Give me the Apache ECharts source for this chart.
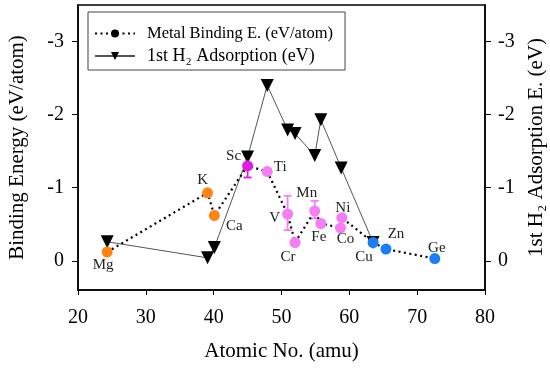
<!DOCTYPE html>
<html><head><meta charset="utf-8">
<script src="https://cdn.jsdelivr.net/npm/echarts@6/dist/echarts.min.js"></script>
<style>html,body{margin:0;padding:0;background:#fff}#c{width:550px;height:370px}</style>
</head><body><div id="c"></div>
<script>
// ---- data ----
const elements   = ['Mg','K','Ca','Sc','Ti','V','Cr','Mn','Fe','Co','Ni','Cu','Zn','Ge'];
const atomicMass = [24.3, 39.1, 40.1, 45.0, 47.9, 50.9, 52.0, 54.9, 55.8, 58.7, 58.9, 63.5, 65.4, 72.6];
const bindingE   = [-0.12, -0.93, -0.62, -1.30, -1.22, -0.64, -0.25, -0.68, -0.51, -0.45, -0.59, -0.25, -0.16, -0.03];
const elementGroup = ['s','s','s','sc','d','d','d','d','d','d','d','p','p','p'];
// error bars: [element, low, high]
const errElements = ['Sc','V','Mn'];
const errLow  = [-1.14, -0.42, -0.58];
const errHigh = [-1.44, -0.89, -0.82];
// first H2 adsorption
const h2Mass = [24.3, 39.1, 40.1, 45.0, 47.9, 50.9, 52.0, 54.9, 55.8, 58.8, 63.5];
const h2Ads  = [-0.26, -0.04, -0.18, -1.42, -2.40, -1.79, -1.74, -1.44, -1.93, -1.27, -0.25];
const xTicks = [20, 30, 40, 50, 60, 70, 80];
const yTicks = [0, -1, -2, -3];
const legendNames = ['Metal Binding E. (eV/atom)', '1st H₂ Adsorption (eV)'];

// ---- styles ----
const groupColor = { s: '#ff8412', sc: '#e01ce0', d: '#f57ef5', p: '#1a7ff5' };
const labelOffset = {
  Mg: [-4, 13], K: [-5, -13], Ca: [20, 11], Sc: [-14, -10], Ti: [13, -5], V: [-13, 4],
  Cr: [-7, 15], Mn: [-8, -18], Fe: [-2, 14], Co: [5, 11], Ni: [1, -10], Cu: [-9, 15],
  Zn: [10, -15], Ge: [2, -11]
};
const FONT = 'Liberation Serif';

const metalData = elements.map((el, i) => ({
  name: el,
  value: [atomicMass[i], bindingE[i]],
  itemStyle: { color: groupColor[elementGroup[i]] },
  label: { offset: labelOffset[el] }
}));
const errData = errElements.map((el, i) => {
  const k = elements.indexOf(el);
  return { name: el, value: [atomicMass[k], errLow[i], errHigh[i]], itemStyle: { color: groupColor[elementGroup[k]] } };
});
const h2Data = h2Mass.map((m, i) => [m, h2Ads[i]]);

const yAxisCommon = {
  type: 'value', min: -3.5, max: 0.4, inverse: true,
  axisLine: { show: true, lineStyle: { color: '#000', width: 1.5 } },
  axisTick: { show: true, inside: false, length: 6, lineStyle: { color: '#000' }, customValues: yTicks },
  axisLabel: { fontFamily: FONT, fontSize: 20, color: '#000', margin: 14, customValues: yTicks, formatter: v => v === 0 ? '0' : String(v) },
  splitLine: { show: false },
  nameLocation: 'middle', nameRotate: 90,
  nameTextStyle: { fontFamily: FONT, fontSize: 21, color: '#000' }
};

const chart = echarts.init(document.getElementById('c'), null, { renderer: 'canvas' });
chart.setOption({
  animation: false,
  backgroundColor: '#fff',
  grid: { left: 78, right: 65, top: 5, bottom: 80, outerBoundsMode: 'none', containLabel: false,
          show: true, borderColor: '#000', borderWidth: 1.5, backgroundColor: 'transparent' },
  legend: {
    left: 88, top: 12, orient: 'vertical',
    borderColor: '#444', borderWidth: 1, padding: [13, 12, 5, 6], itemGap: 5,
    itemWidth: 40, itemHeight: 10,
    data: [
      { name: legendNames[0], textStyle: { fontSize: 16.5 } },
      { name: legendNames[1], textStyle: { fontSize: 18 } }
    ],
    textStyle: { fontFamily: FONT, color: '#000', padding: [0, 0, 0, 7] }
  },
  xAxis: {
    type: 'value', min: 20, max: 80, interval: 10,
    axisLine: { show: true, onZero: false, lineStyle: { color: '#000', width: 1.5 } },
    axisTick: { show: true, length: 5, lineStyle: { color: '#000' } },
    axisLabel: { fontFamily: FONT, fontSize: 20, color: '#000', margin: 18 },
    splitLine: { show: false },
    name: 'Atomic No. (amu)', nameLocation: 'middle', nameGap: 51,
    nameTextStyle: { fontFamily: FONT, fontSize: 21, color: '#000' }
  },
  yAxis: [
    Object.assign({}, yAxisCommon, { position: 'left', name: 'Binding Energy (eV/atom)', nameGap: 50 }),
    Object.assign({}, yAxisCommon, { position: 'right', name: '1st H₂ Adsorption E. (eV)', nameGap: 40,
      axisLabel: Object.assign({}, yAxisCommon.axisLabel, { margin: 13 }) })
  ],
  series: [
    {
      name: legendNames[1], type: 'line', yAxisIndex: 1, data: h2Data,
      symbol: 'triangle', symbolRotate: 180, symbolSize: 13,
      lineStyle: { color: '#555', width: 1 },
      itemStyle: { color: '#000' }, z: 3
    },
    {
      name: 'errorbars', type: 'custom', yAxisIndex: 0, data: errData, z: 2,
      renderItem: function (params, api) {
        const x = api.value(0);
        const p1 = api.coord([x, api.value(1)]);
        const p2 = api.coord([x, api.value(2)]);
        const c = errData[params.dataIndex].itemStyle.color;
        const w = 4;
        const st = { stroke: c, lineWidth: 1.8 };
        return { type: 'group', children: [
          { type: 'line', shape: { x1: p1[0], y1: p1[1], x2: p2[0], y2: p2[1] }, style: st },
          { type: 'line', shape: { x1: p1[0] - w, y1: p1[1], x2: p1[0] + w, y2: p1[1] }, style: st },
          { type: 'line', shape: { x1: p2[0] - w, y1: p2[1], x2: p2[0] + w, y2: p2[1] }, style: st }
        ]};
      }
    },
    {
      name: legendNames[0], type: 'line', yAxisIndex: 0, data: metalData,
      symbol: 'circle', symbolSize: 11, showAllSymbol: true,
      lineStyle: { color: '#000', width: 2.2, type: [2, 3.5] },
      itemStyle: { color: '#000' }, z: 4,
      label: { show: true, position: 'inside', formatter: p => p.name, fontFamily: FONT, fontSize: 15, color: '#222' }
    }
  ]
});
</script></body></html>
